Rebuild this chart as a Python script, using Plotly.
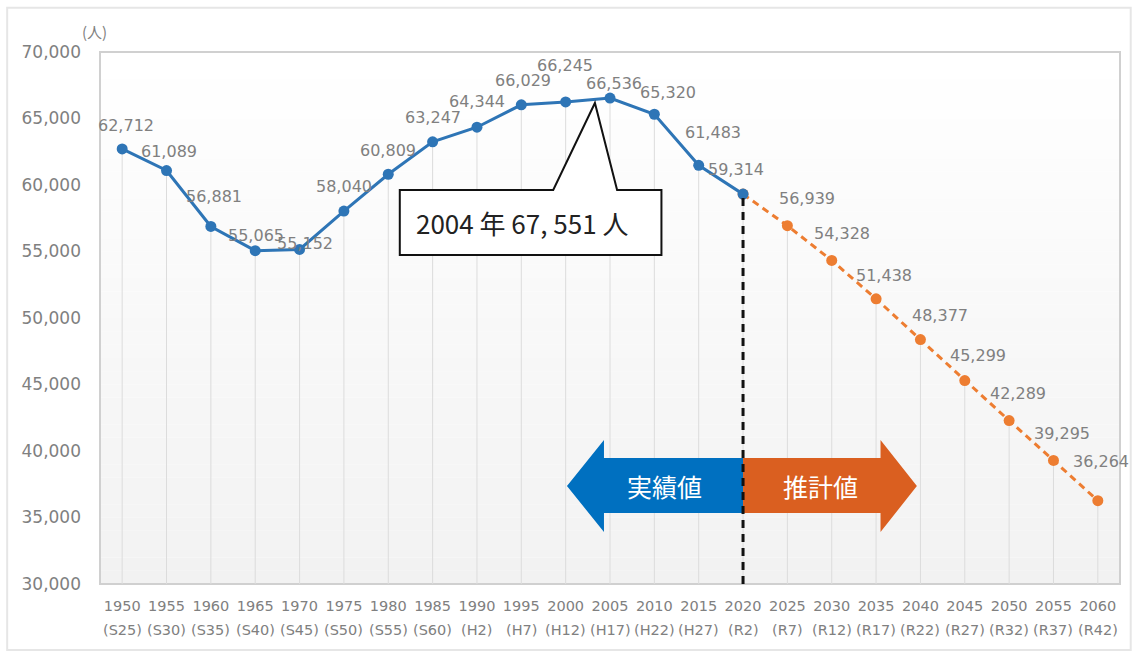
import plotly.graph_objects as go

# Population by census year (persons)
actual_years = [1950, 1955, 1960, 1965, 1970, 1975, 1980, 1985, 1990, 1995,
                2000, 2005, 2010, 2015, 2020]
actual_pop = [62712, 61089, 56881, 55065, 55152, 58040, 60809, 63247, 64344,
              66029, 66245, 66536, 65320, 61483, 59314]

proj_years = [2020, 2025, 2030, 2035, 2040, 2045, 2050, 2055, 2060]
proj_pop = [59314, 56939, 54328, 51438, 48377, 45299, 42289, 39295, 36264]

era_labels = ["(S25)", "(S30)", "(S35)", "(S40)", "(S45)", "(S50)", "(S55)", "(S60)",
              "(H2)", "(H7)", "(H12)", "(H17)", "(H22)", "(H27)", "(R2)", "(R7)",
              "(R12)", "(R17)", "(R22)", "(R27)", "(R32)", "(R37)", "(R42)"]
all_years = list(range(1950, 2061, 5))

peak_text = "2004 年 67, 551 人"

# label offsets (pixels) for the value labels
actual_shift = [(4, 23), (2, 19), (3, 30), (1, 15), (5, 6), (0, 25), (0, 24), (0, 24),
                (0, 26), (2, 24), (-1, 36), (4, 15), (14, 22), (14, 33), (-7, 25)]
proj_shift = [None, (20, 27), (10, 27), (8, 23), (20, 24), (13, 25), (9, 27), (9, 27), (3, 39)]

BLUE = "#2E75B6"
ORANGE = "#ED7D31"
LABEL_GRAY = "#808080"
NUM_FONT = "DejaVu Sans"
JP_FONT = "Noto Sans CJK JP"

fig = go.Figure()

# drop lines from each point to the base of the axis
drop_x, drop_y = [], []
for yr, v in list(zip(actual_years, actual_pop)) + list(zip(proj_years[1:], proj_pop[1:])):
    drop_x += [yr, yr, None]
    drop_y += [v, 30000, None]
fig.add_trace(go.Scatter(x=drop_x, y=drop_y, mode="lines",
                         line=dict(color="#dcdcdc", width=1), hoverinfo="skip",
                         showlegend=False))

fig.add_trace(go.Scatter(x=proj_years, y=proj_pop, mode="lines+markers",
                         line=dict(color=ORANGE, width=3, dash="7px,5px"),
                         marker=dict(color=ORANGE, size=11), showlegend=False))
fig.add_trace(go.Scatter(x=actual_years, y=actual_pop, mode="lines+markers",
                         line=dict(color=BLUE, width=3),
                         marker=dict(color=BLUE, size=11), showlegend=False))

label_font = dict(family=NUM_FONT, size=16, color=LABEL_GRAY)
annotations = []
for yr, v, (dx, dy) in zip(actual_years, actual_pop, actual_shift):
    annotations.append(dict(x=yr, y=v, xref="x", yref="y", text=f"{v:,}", showarrow=False,
                            xshift=dx, yshift=dy, font=label_font))
for yr, v, sh in zip(proj_years, proj_pop, proj_shift):
    if sh is None:
        continue
    dx, dy = sh
    annotations.append(dict(x=yr, y=v, xref="x", yref="y", text=f"{v:,}", showarrow=False,
                            xshift=dx, yshift=dy, font=label_font))

# era names under the year ticks
for yr, era in zip(all_years, era_labels):
    annotations.append(dict(x=yr, y=-0.0865, xref="x", yref="paper", text=era,
                            showarrow=False, yanchor="middle",
                            font=dict(family=NUM_FONT, size=14.5, color=LABEL_GRAY)))

# unit label
annotations.append(dict(x=-0.005, y=1.038, xref="paper", yref="paper", text="(人)",
                        showarrow=False, yanchor="middle", xanchor="center",
                        font=dict(family=JP_FONT, size=15, color=LABEL_GRAY)))

# callout text
annotations.append(dict(x=1995.1, y=57150, xref="x", yref="y", text=peak_text,
                        showarrow=False, font=dict(family=JP_FONT, size=26, color="#222222")))

# arrow captions
annotations.append(dict(x=2011.2, y=37368, xref="x", yref="y", text="実績値", showarrow=False,
                        font=dict(family=JP_FONT, size=25, color="white")))
annotations.append(dict(x=2028.7, y=37368, xref="x", yref="y", text="推計値", showarrow=False,
                        font=dict(family=JP_FONT, size=25, color="white")))

shapes = []
# soft vertical gradient in the plot area
n_bands = 40
for i in range(n_bands):
    t = i / (n_bands - 1)
    g = int(round(255 - 13 * (1 - t)))
    shapes.append(dict(type="rect", xref="x domain", yref="y domain",
                       x0=0, x1=1, y0=i / n_bands, y1=(i + 1) / n_bands,
                       fillcolor=f"rgb({g},{g},{g})", line=dict(width=0), layer="below"))

# plot frame and outer frame
shapes.append(dict(type="rect", xref="x domain", yref="y domain", x0=0, x1=1, y0=0, y1=1,
                   line=dict(color="#d0d0d0", width=2), layer="below"))
shapes.append(dict(type="rect", xref="paper", yref="paper", x0=-0.091, x1=1.0105,
                   y0=-0.124, y1=1.083, line=dict(color="#e6e6e6", width=2), layer="below"))

# history / projection arrows
y_top_head, y_top_body, y_mid, y_bot_body, y_bot_head = 40827, 39474, 37368, 35338, 33910
blue_path = (f"M 2000.15,{y_mid} L 2004.32,{y_top_head} L 2004.32,{y_top_body} "
             f"L 2020,{y_top_body} L 2020,{y_bot_body} L 2004.32,{y_bot_body} "
             f"L 2004.32,{y_bot_head} Z")
orange_path = (f"M 2020,{y_top_body} L 2035.5,{y_top_body} L 2035.5,{y_top_head} "
               f"L 2039.6,{y_mid} L 2035.5,{y_bot_head} L 2035.5,{y_bot_body} "
               f"L 2020,{y_bot_body} Z")
shapes.append(dict(type="path", xref="x", yref="y", path=blue_path,
                   fillcolor="#0070C0", line=dict(width=0)))
shapes.append(dict(type="path", xref="x", yref="y", path=orange_path,
                   fillcolor="#DA5F20", line=dict(width=0)))

# boundary between actual and projected values
shapes.append(dict(type="line", xref="x", yref="y", x0=2020, x1=2020,
                   y0=30000, y1=actual_pop[-1],
                   line=dict(color="#111111", width=3, dash="8px,6px")))

# peak callout
callout = ("M 1981.3,59624 L 1998.6,59624 L 2003.3,66165 L 2005.8,59624 "
           "L 2010.8,59624 L 2010.8,54737 L 1981.3,54737 Z")
shapes.append(dict(type="path", xref="x", yref="y", path=callout,
                   fillcolor="white", line=dict(color="#111111", width=2)))

fig.update_layout(
    width=1134, height=653,
    margin=dict(l=100, r=14, t=52, b=69),
    paper_bgcolor="white", plot_bgcolor="white",
    showlegend=False,
    annotations=annotations,
    shapes=shapes,
    xaxis=dict(range=[1947.5, 2062.5], tickmode="array", tickvals=all_years,
               ticktext=[str(y) for y in all_years],
               showgrid=False, zeroline=False, showline=False, ticks="",
               ticklabelstandoff=11,
               tickfont=dict(family=NUM_FONT, size=14.5, color=LABEL_GRAY)),
    yaxis=dict(range=[30000, 70000], tickmode="array",
               tickvals=list(range(30000, 70001, 5000)),
               ticktext=[f"{v:,}" for v in range(30000, 70001, 5000)],
               showgrid=False, zeroline=False, showline=False, ticks="",
               ticklabelstandoff=18,
               tickfont=dict(family=NUM_FONT, size=17, color=LABEL_GRAY)),
)

fig.write_html("out.html")
